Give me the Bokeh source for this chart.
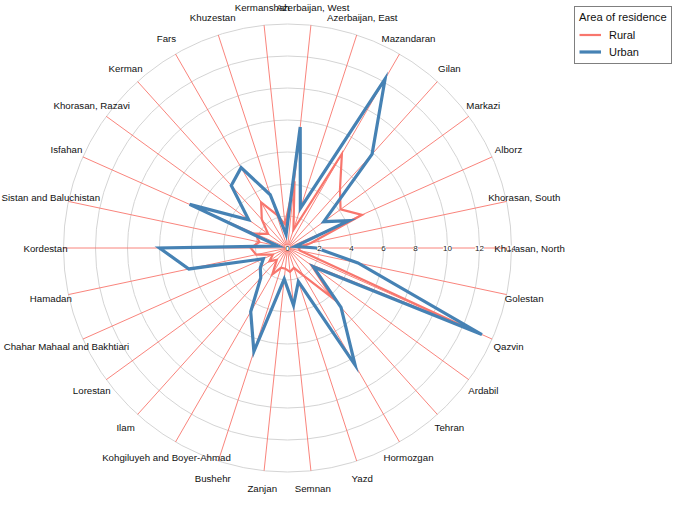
import numpy as np
from bokeh.plotting import figure
from bokeh.models import ColumnDataSource, LabelSet, Legend, LegendItem, Range1d
from bokeh.embed import file_html
from bokeh.resources import INLINE
from bokeh.core.properties import value

provinces = ["Azerbaijan, West", "Azerbaijan, East", "Mazandaran", "Gilan", "Markazi", "Alborz",
             "Khorasan, South", "Khorasan, North", "Golestan", "Qazvin", "Ardabil", "Tehran",
             "Hormozgan", "Yazd", "Semnan", "Zanjan", "Bushehr", "Kohgiluyeh and Boyer-Ahmad",
             "Ilam", "Lorestan", "Chahar Mahaal and Bakhtiari", "Hamadan", "Kordestan",
             "Sistan and Baluchistan", "Isfahan", "Khorasan, Razavi", "Kerman", "Fars",
             "Khuzestan", "Kermanshah"]

rural = [4.2, 1.2, 6.8, 4.9, 4.1, 5.1, 1.5, 0.7, 0.8, 12.5, 1.85, 4.2, 2.0, 1.3, 1.5,
         1.3, 1.3, 1.9, 1.0, 1.4, 1.0, 2.0, 2.3, 1.8, 2.2, 1.5, 2.4, 3.3, 2.2, 1.5]

urban = [7.6, 2.6, 12.2, 7.9, 2.8, 4.2, 0.5, 1.8, 4.5, 13.3, 2.0, 5.0, 8.45, 2.2, 3.6,
         1.95, 6.8, 4.6, 2.5, 2.1, 1.65, 6.3, 8.0, 0.6, 6.7, 3.0, 5.25, 5.8, 3.5, 0.85]

ticks = [0, 2, 4, 6, 8, 10, 12, 14]
r_max = 14

SCALE = 16.0
W, H = 673, 494
cx, cy = 287, 247.5
label_r = 242 / SCALE

x0 = -cx / SCALE
y1 = cy / SCALE
p = figure(width=W, height=H, output_backend="svg", toolbar_location=None,
           x_range=Range1d(x0, x0 + W / SCALE), y_range=Range1d(y1 - H / SCALE, y1),
           min_border=0, outline_line_color=None, background_fill_color="white")
p.axis.visible = False
p.xgrid.visible = False
p.ygrid.visible = False

n = len(provinces)
theta = np.pi / 2 - (np.arange(n) + 0.5) * 2 * np.pi / n

# grid circles
for t in ticks[1:]:
    p.circle(x=0, y=0, radius=t, fill_color=None, line_color="#d4d4d4", line_width=1)

# radial lines
p.segment(x0=np.zeros(n), y0=np.zeros(n), x1=r_max * np.cos(theta), y1=r_max * np.sin(theta),
          line_color="#F8766D", line_width=0.9)

# category labels
p.text(x=label_r * np.cos(theta), y=label_r * np.sin(theta), text=provinces,
       text_align="center", text_baseline="middle", text_font=value("Liberation Sans"),
       text_font_size="9.7px", text_color="#111111")

def closed(vals):
    v = np.array(vals + vals[:1], dtype=float)
    th = np.concatenate([theta, theta[:1]])
    return v * np.cos(th), v * np.sin(th)

rx, ry = closed(rural)
ux, uy = closed(urban)
lr = p.line(rx, ry, line_color="#F8766D", line_width=2.2, line_join="miter")
lu = p.line(ux, uy, line_color="#4682B4", line_width=3.2, line_join="miter")

# tick labels along the 0-degree direction
tsrc = ColumnDataSource(dict(x=[float(t) for t in ticks], y=[0.0] * len(ticks),
                             t=[str(t) for t in ticks]))
p.add_layout(LabelSet(x="x", y="y", text="t", source=tsrc, text_align="center",
                      text_baseline="middle", text_font_size=value("8px"),
                      text_font=value("Liberation Sans"), text_color="#222222",
                      background_fill_color="white", background_fill_alpha=1.0))

legend = Legend(items=[LegendItem(label="Rural", renderers=[lr]),
                       LegendItem(label="Urban", renderers=[lu])],
                title="Area of residence", location=(574, 430))
legend.title_text_font = "Liberation Sans"
legend.title_text_font_size = "11.2px"
legend.title_text_font_style = "normal"
legend.title_text_color = "#111111"
legend.title_standoff = 4
legend.label_text_font = "Liberation Sans"
legend.label_text_font_size = "11px"
legend.label_text_color = "#111111"
legend.glyph_width = 22
legend.glyph_height = 15
legend.label_height = 15
legend.label_standoff = 8
legend.spacing = 2
legend.padding = 4
legend.margin = 0
legend.border_line_color = "black"
legend.border_line_width = 1
legend.background_fill_color = "white"
p.add_layout(legend)

open("out.html", "w").write(file_html(p, INLINE))
